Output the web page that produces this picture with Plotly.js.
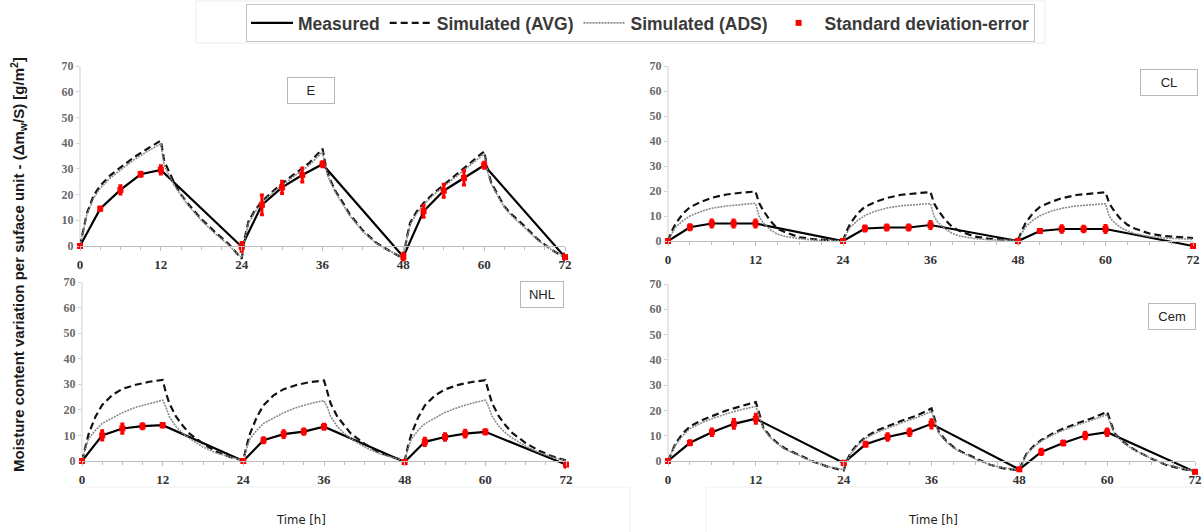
<!DOCTYPE html>
<html>
<head>
<meta charset="utf-8">
<script src="https://cdn.plot.ly/plotly-3.0.1.min.js"></script>
<style>
  html, body { margin: 0; padding: 0; background: #ffffff; }
  #chart { width: 1204px; height: 532px; }
</style>
</head>
<body>
<div id="chart"></div>
<script>
// Time axis (hours) of the measured samples and of the simulated curves
const hoursMeasured = [0, 3, 6, 9, 12, 24, 27, 30, 33, 36, 48, 51, 54, 57, 60, 72];
const hoursSim = [
  0, 0.5, 1, 2, 3, 4.5, 6, 8, 10, 12, 12.5, 13, 14, 15, 16, 18, 20, 22, 24,
  24.5, 25, 26, 27, 28.5, 30, 32, 34, 36, 36.5, 37, 38, 39, 40, 42, 44, 46, 48,
  48.5, 49, 50, 51, 52.5, 54, 56, 58, 60, 60.5, 61, 62, 63, 64, 66, 68, 70, 72
];
const xTickLabels = [0, 12, 24, 36, 48, 60, 72];
const yTickLabels = [0, 10, 20, 30, 40, 50, 60, 70];

// Mortar E
const eMeasured = [0, 14.5, 21.8, 27.9, 29.6, -0.3, 16, 22.8, 27.6, 31.8, -4.2, 13.5, 21.5, 26.5, 31.4, -4.3];
const eError    = [0.3, 0.6, 1.6, 0.8, 1.6, 1.7, 3.8, 2.4, 2.7, 1.0, 1.4, 2.3, 2.5, 2.8, 1.2, 1.2];
const eAvg = [
  0, 7, 12.5, 19.5, 23.5, 27.5, 30.5, 34.5, 37.8, 41, 33, 30, 24.5, 20, 16.5, 10.5, 5.5, 1, -5,
  3.5, 9.5, 14, 17.3, 21, 24.4, 28.3, 32.2, 37.8, 31, 26.5, 21, 17, 12.5, 6, 1.2, -2, -4.8,
  3, 9, 13.5, 16.7, 20.5, 23.7, 28, 32.5, 36.8, 30, 25, 20, 15.4, 12.5, 7.7, 2.5, -1.5, -4.5
];
const eAds = [
  0, 6.5, 12, 18.5, 22.5, 26.5, 29.5, 33.5, 36.8, 39.8, 31.5, 28.5, 23.5, 19.5, 16, 10, 5, 0.5, -4.6,
  3, 8.8, 13.3, 16.7, 20.5, 23.7, 27.6, 31.3, 36.6, 30, 26, 20.5, 16.5, 12, 5.5, 1, -2, -4.6,
  2.5, 8.3, 12.8, 16, 20, 23.2, 27.5, 31.8, 35.8, 29, 24.5, 19.5, 15, 12, 7.2, 2.2, -1.5, -4.2
];

// Mortar CL
const clMeasured = [0, 5.5, 7, 7, 7, 0, 5, 5.4, 5.4, 6.4, 0, 4, 4.8, 4.8, 4.8, -2];
const clError    = [0.3, 1, 1.4, 1.4, 1.4, 0.6, 1, 1, 1, 1.4, 0.7, 0.6, 1.3, 1.1, 1.4, 0.6];
const clAvg = [
  0, 3.8, 6.7, 10.8, 13.5, 15.6, 17.3, 18.6, 19.3, 19.8, 15.2, 12.5, 8.2, 5, 3.6, 1.5, 0.7, 0.3, 0,
  4, 7, 11, 13.7, 15.7, 17.2, 18.5, 19.1, 19.6, 15, 12.5, 8.5, 5.5, 4, 1.8, 0.9, 0.5, 0.3,
  4, 7, 11, 13.6, 15.6, 17.1, 18.4, 19, 19.5, 15.2, 12.8, 9, 6.5, 5, 3, 2, 1.5, 1.2
];
const clAds = [
  0, 3, 5.4, 8, 10, 11.8, 13.1, 14, 14.6, 15.1, 9.8, 7.4, 4.6, 2.7, 1.9, 0.9, 0.4, 0.2, 0,
  3, 5.5, 8.2, 10.2, 12, 13.2, 14.1, 14.6, 15, 9.8, 7.5, 4.8, 3, 2, 1, 0.5, 0.3, 0.2,
  3, 5.5, 8.2, 10.1, 11.9, 13.1, 14, 14.5, 14.9, 10, 8, 5.5, 4, 3, 1.8, 1.2, 0.9, 0.7
];

// Mortar NHL
const nhlMeasured = [0, 10, 12.7, 13.6, 14, 0, 8.1, 10.5, 11.5, 13.4, -0.4, 7.5, 9.4, 10.7, 11.4, -1.4];
const nhlError    = [0.3, 1.8, 1.8, 1, 0.7, 0.5, 1, 1.3, 1, 1, 0.7, 1.4, 1.3, 1.3, 0.8, 1];
const nhlAvg = [
  0, 6, 10.7, 17.3, 21.9, 25.8, 28.2, 29.8, 31, 31.7, 26.5, 22.5, 17.3, 13.8, 10.7, 6.8, 3.6, 1.6, 0.3,
  6, 10.7, 17.2, 21.8, 25.7, 28.1, 29.8, 30.9, 31.5, 26.4, 22.4, 17.3, 13.8, 10.7, 6.8, 3.6, 1.6, 0.2,
  5.8, 10.5, 17, 21.7, 25.6, 28, 29.8, 30.9, 31.6, 26.7, 22.6, 17.5, 14, 11, 7, 4, 1.8, 0.2
];
const nhlAds = [
  0, 5, 8.8, 12, 14.7, 16.8, 18.9, 21, 22.5, 23.8, 21, 17.3, 13.4, 10.8, 8.8, 5.5, 3.1, 1.5, 0.2,
  5, 8.8, 12, 14.7, 16.8, 18.9, 21, 22.5, 23.6, 21, 17.3, 13.4, 10.8, 8.8, 5.5, 3.1, 1.5, 0.1,
  4.8, 8.6, 12, 14.6, 16.8, 19, 21, 22.6, 23.8, 21.2, 17.5, 13.6, 11, 9, 5.8, 3.3, 1.5, 0
];

// Mortar Cem
const cemMeasured = [0, 7.2, 11.4, 14.7, 16.7, -0.8, 6.6, 9.5, 11.4, 14.7, -3.3, 3.6, 7.1, 10.1, 11.4, -4.3];
const cemError    = [0.3, 0.8, 1.3, 1.7, 1.8, 0.7, 0.8, 1.3, 1.3, 1.6, 0.5, 1, 0.8, 1.3, 1.3, 0.3];
const cemAvg = [
  0, 3.8, 6.8, 10.8, 13.7, 16, 17.8, 20, 21.7, 23.3, 18.5, 13.4, 9.5, 7, 4.9, 2.2, -0.4, -2.4, -3.7,
  0.5, 3.5, 7, 9.5, 12, 13.8, 16, 18, 20.8, 16, 11.5, 8, 5.5, 3.8, 1, -1.5, -3, -3.7,
  0, 3, 6, 8.3, 10.8, 12.8, 15, 17, 19.5, 15, 11, 8, 5.8, 4, 1, -1.5, -3, -4
];
const cemAds = [
  0, 3.5, 6.2, 10, 12.8, 15, 16.7, 18.7, 20.3, 21.6, 17.5, 13, 9.2, 6.7, 4.6, 2, -0.5, -2.3, -3.4,
  0.3, 3, 6.5, 9, 11.3, 13, 15.2, 17.2, 19.6, 15.2, 11, 7.6, 5.2, 3.5, 0.8, -1.5, -2.8, -3.4,
  -0.2, 2.7, 5.6, 7.9, 10.3, 12.2, 14.3, 16.2, 18.3, 14.5, 10.8, 7.8, 5.6, 3.9, 1, -1.3, -2.8, -3.8
];

const seriesNames = ['Measured', 'Simulated (AVG)', 'Simulated (ADS)', 'Standard deviation-error'];
const panelNames = ['E', 'CL', 'NHL', 'Cem'];

// ---- page geometry (pixels) ----
const W = 1204, H = 532;
const fx = p => p / W;
const fy = p => 1 - p / H;
const Y_MIN = -6, Y_MAX = 70;

const panels = [
  { name: panelNames[0], meas: eMeasured,   err: eError,   avg: eAvg,   ads: eAds,
    left: 80,  right: 565,  top: 66,  zero: 246, box: [311, 91], boxW: 36 },
  { name: panelNames[1], meas: clMeasured,  err: clError,  avg: clAvg,  ads: clAds,
    left: 668, right: 1193, top: 66,  zero: 241, box: [1169, 82], boxW: 46 },
  { name: panelNames[2], meas: nhlMeasured, err: nhlError, avg: nhlAvg, ads: nhlAds,
    left: 82,  right: 566,  top: 282, zero: 461, box: [542, 294], boxW: 32 },
  { name: panelNames[3], meas: cemMeasured, err: cemError, avg: cemAvg, ads: cemAds,
    left: 668, right: 1195, top: 284, zero: 461, box: [1172, 316], boxW: 36 }
];

const tickFontX = { family: 'Liberation Serif, serif', size: 13, color: '#333333', weight: 'bold' };
const tickFontY = { family: 'Liberation Serif, serif', size: 12, color: '#6a6a6a', weight: 'bold' };
const axisGrey = '#bdbdbd';

const traces = [];
const layout = {
  width: W, height: H,
  margin: { l: 0, r: 0, t: 0, b: 0 },
  paper_bgcolor: '#ffffff',
  plot_bgcolor: 'rgba(0,0,0,0)',
  showlegend: true,
  legend: {
    orientation: 'h',
    x: fx(246), y: fy(4), xanchor: 'left', yanchor: 'top',
    bordercolor: '#c4c4c4', borderwidth: 1, bgcolor: '#ffffff',
    font: { family: 'Liberation Sans, Arial, sans-serif', size: 17.5, color: '#3a3a3a', weight: 'bold' },
    itemwidth: 42, tracegroupgap: 0, itemclick: false
  },
  shapes: [],
  annotations: []
};

panels.forEach((p, i) => {
  const n = i === 0 ? '' : String(i + 1);
  const xa = 'x' + n, ya = 'y' + n;
  const pxPerUnit = (p.zero - p.top) / Y_MAX;
  const bottom = p.zero - Y_MIN * pxPerUnit;
  const first = i === 0;

  layout['xaxis' + n] = {
    domain: [fx(p.left), fx(p.right)], range: [0, 72],
    anchor: 'free', position: fy(p.zero),
    tickmode: 'array', tickvals: xTickLabels, ticktext: xTickLabels.map(String),
    ticks: 'outside', ticklen: 4, tickwidth: 1, tickcolor: axisGrey,
    minor: { dtick: 3, tick0: 0, ticks: 'outside', ticklen: 3, tickcolor: axisGrey, showgrid: false },
    showline: true, linecolor: axisGrey, linewidth: 1,
    showgrid: false, zeroline: false, tickfont: tickFontX, ticklabelstandoff: 2,
    fixedrange: true
  };
  layout['yaxis' + n] = {
    domain: [fy(bottom), fy(p.top)], range: [Y_MIN, Y_MAX],
    anchor: xa,
    tickmode: 'array', tickvals: yTickLabels, ticktext: yTickLabels.map(String),
    ticks: 'outside', ticklen: 3, tickcolor: '#d0d0d0',
    showline: false, showgrid: false, zeroline: false, tickfont: tickFontY,
    fixedrange: true
  };

  // vertical axis line from 0 to 70
  layout.shapes.push({
    type: 'line', xref: xa + ' domain', yref: ya,
    x0: 0, x1: 0, y0: 0, y1: Y_MAX,
    line: { color: '#cfcfcf', width: 1 }, layer: 'below'
  });

  // panel name tag
  layout.annotations.push({
    xref: 'paper', yref: 'paper', x: fx(p.box[0]), y: fy(p.box[1]),
    xanchor: 'center', yanchor: 'middle', showarrow: false,
    text: p.name,
    font: { family: 'Liberation Sans, Arial, sans-serif', size: 13, color: '#222222' },
    bgcolor: '#ffffff', bordercolor: '#b8b8b8', borderwidth: 1, borderpad: 5,
    width: p.boxW
  });

  traces.push({
    type: 'scatter', mode: 'lines', x: hoursMeasured, y: p.meas,
    xaxis: xa, yaxis: ya, name: seriesNames[0], legendgroup: 'm', showlegend: first,
    line: { color: '#000000', width: 2.2 }, cliponaxis: false, hoverinfo: 'skip'
  });
  traces.push({
    type: 'scatter', mode: 'lines', x: hoursSim, y: p.avg,
    xaxis: xa, yaxis: ya, name: seriesNames[1], legendgroup: 'a', showlegend: first,
    line: { color: '#111111', width: 2.2, dash: '7px,4px' }, cliponaxis: false, hoverinfo: 'skip'
  });
  traces.push({
    type: 'scatter', mode: 'lines', x: hoursSim, y: p.ads,
    xaxis: xa, yaxis: ya, name: seriesNames[2], legendgroup: 'd', showlegend: first,
    line: { color: '#8a8a8a', width: 1.6, dash: '2px,1px' }, cliponaxis: false, hoverinfo: 'skip'
  });
  traces.push({
    type: 'scatter', mode: 'markers', x: hoursMeasured, y: p.meas,
    xaxis: xa, yaxis: ya, name: seriesNames[3], legendgroup: 'e', showlegend: first,
    marker: { symbol: 'square', size: 6, color: '#ff0000' },
    error_y: { type: 'data', array: p.err, visible: true, color: '#ff0000', thickness: 3, width: 2 },
    cliponaxis: false, hoverinfo: 'skip'
  });
});

// outer frame around the legend and faint panel frames
layout.shapes.push(
  { type: 'rect', xref: 'paper', yref: 'paper', x0: fx(196), x1: fx(1045), y0: fy(43), y1: fy(1),
    line: { color: '#ececec', width: 1 }, layer: 'below' },
  { type: 'line', xref: 'paper', yref: 'paper', x0: fx(70), x1: fx(630), y0: fy(487), y1: fy(487),
    line: { color: '#f0f0f0', width: 1 }, layer: 'below' },
  { type: 'line', xref: 'paper', yref: 'paper', x0: fx(630), x1: fx(630), y0: fy(487), y1: fy(532),
    line: { color: '#f0f0f0', width: 1 }, layer: 'below' },
  { type: 'line', xref: 'paper', yref: 'paper', x0: fx(706), x1: fx(1204), y0: fy(487), y1: fy(487),
    line: { color: '#f0f0f0', width: 1 }, layer: 'below' },
  { type: 'line', xref: 'paper', yref: 'paper', x0: fx(706), x1: fx(706), y0: fy(487), y1: fy(532),
    line: { color: '#f0f0f0', width: 1 }, layer: 'below' }
);

// axis titles
layout.annotations.push(
  { xref: 'paper', yref: 'paper', x: fx(18), y: fy(265), xanchor: 'center', yanchor: 'middle',
    showarrow: false, textangle: -90,
    text: 'Moisture content variation per suface unit - (Δm<sub>w</sub>/S) [g/m<sup>2</sup>]',
    font: { family: 'Liberation Sans, Arial, sans-serif', size: 15, color: '#1a1a1a', weight: 'bold' } },
  { xref: 'paper', yref: 'paper', x: fx(301), y: fy(519), xanchor: 'center', yanchor: 'middle',
    showarrow: false, text: 'Time [h]',
    font: { family: 'Liberation Sans Narrow, DejaVu Sans Condensed, sans-serif', size: 13, color: '#1a1a1a' } },
  { xref: 'paper', yref: 'paper', x: fx(933), y: fy(519), xanchor: 'center', yanchor: 'middle',
    showarrow: false, text: 'Time [h]',
    font: { family: 'Liberation Sans Narrow, DejaVu Sans Condensed, sans-serif', size: 13, color: '#1a1a1a' } }
);

Plotly.newPlot('chart', traces, layout, { displayModeBar: false, staticPlot: true });
</script>
</body>
</html>
